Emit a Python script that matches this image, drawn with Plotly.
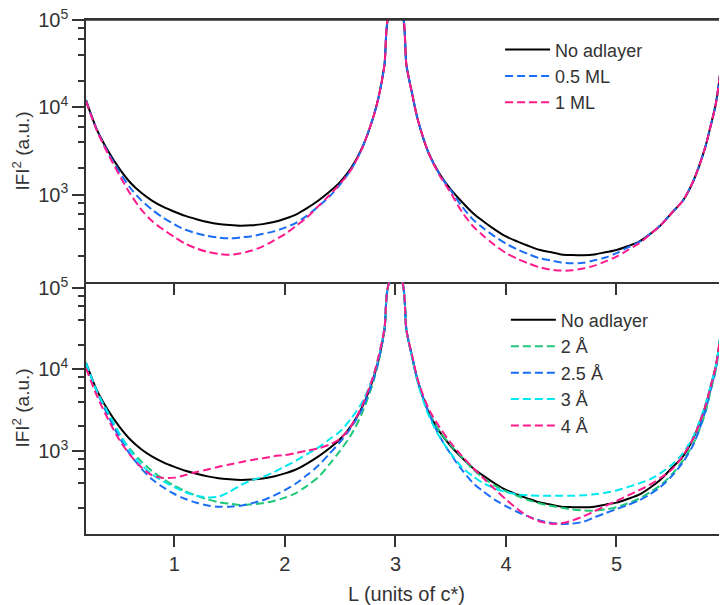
import plotly.graph_objects as go

# ---------------- data ----------------
L = [0.2, 0.3, 0.4, 0.5, 0.6, 0.7, 0.8, 0.9, 1.0, 1.1, 1.2, 1.3, 1.4, 1.5, 1.6, 1.7,
     1.8, 1.9, 2.0, 2.1, 2.2, 2.3, 2.4, 2.5, 2.6, 2.7, 2.8, 2.85, 2.9, 2.95,
     3.05, 3.1, 3.15, 3.2, 3.3, 3.4, 3.5, 3.6, 3.7, 3.8, 3.9, 4.0, 4.1, 4.2, 4.3,
     4.4, 4.5, 4.6, 4.7, 4.8, 4.9, 5.0, 5.1, 5.2, 5.3, 5.4, 5.5, 5.6, 5.7, 5.8,
     5.85, 5.9, 5.95, 6.0]

no_adlayer = [12100, 5500, 3160, 2000, 1380, 1050, 851, 724, 638, 571, 524, 487, 462, 449, 441, 446,
              460, 486, 530, 591, 700, 851, 1070, 1400, 2030, 3470, 7760, 13500, 30200, 120000,
              126000, 30000, 14500, 7400, 3000, 1720, 1150, 830, 617, 490, 398, 332, 292, 260, 234,
              220, 207, 204, 203, 207, 219, 232, 257, 288, 351, 447, 617, 851, 1480, 3390,
              6000, 11200, 35500, 1000000]

ml_05 = [12000, 5430, 3020, 1845, 1200, 861, 671, 543, 457, 396, 361, 337, 322, 316, 324, 335,
         356, 380, 419, 475, 575, 728, 944, 1310, 1950, 3430, 7760, 13500, 30200, 120000,
         126000, 30000, 14500, 7400, 3000, 1700, 1120, 740, 521, 410, 331, 275, 237, 209, 188,
         177, 167, 164, 166, 177, 191, 214, 248, 285, 351, 447, 617, 851, 1480, 3390,
         6000, 11200, 35500, 1000000]

ml_1 = [11750, 5370, 2920, 1690, 1023, 676, 495, 398, 327, 274, 242, 221, 210, 205, 213, 229,
        256, 299, 354, 439, 550, 735, 977, 1340, 1950, 3430, 7760, 13500, 30200, 120000,
        126000, 30000, 14500, 7400, 3000, 1660, 1050, 641, 438, 334, 264, 215, 185, 164, 148,
        139, 135, 136, 143, 154, 172, 195, 231, 275, 347, 447, 617, 851, 1480, 3390,
        6000, 11200, 35500, 1000000]

d_2A = [12000, 5370, 2820, 1600, 1050, 745, 562, 451, 373, 319, 282, 254, 235, 225, 217, 221,
        228, 243, 267, 304, 373, 473, 679, 1007, 1585, 2950, 7080, 13000, 30200, 120000,
        126000, 30000, 14500, 7400, 3000, 1740, 1175, 841, 596, 462, 376, 320, 282, 250, 228,
        212, 200, 191, 186, 185, 191, 204, 226, 257, 309, 380, 513, 759, 1260, 2820,
        5300, 10000, 35500, 1000000]

d_25A = [11900, 5300, 2690, 1480, 904, 610, 445, 356, 296, 257, 231, 214, 206, 207, 212, 228,
         248, 283, 331, 398, 505, 656, 914, 1290, 1950, 3310, 7500, 13500, 30200, 120000,
         126000, 30000, 14500, 7400, 2950, 1510, 912, 589, 407, 314, 251, 210, 179, 157, 141,
         131, 127, 128, 135, 153, 172, 193, 216, 245, 292, 363, 490, 724, 1230, 2950,
         5500, 10500, 35500, 1000000]

d_3A = [12000, 5300, 2950, 1660, 1007, 679, 513, 424, 359, 311, 282, 269, 275, 316, 380, 437,
        479, 550, 646, 759, 912, 1096, 1380, 1740, 2510, 3980, 8320, 15000, 31600, 120000,
        126000, 30000, 14000, 7000, 2750, 1480, 933, 631, 490, 398, 347, 313, 294, 285, 282,
        281, 281, 282, 285, 294, 307, 327, 359, 398, 447, 537, 676, 933, 1550, 3550,
        6200, 11200, 35500, 1000000]

d_4A = [10350, 4700, 2450, 1380, 889, 631, 501, 466, 470, 506, 550, 592, 638, 682, 728, 773,
        813, 861, 891, 944, 1007, 1072, 1190, 1410, 2040, 3630, 8320, 15000, 31600, 120000,
        126000, 30000, 15000, 7600, 3300, 1950, 1260, 871, 624, 457, 339, 254, 195, 158, 137,
        128, 129, 140, 157, 182, 211, 243, 282, 327, 383, 468, 589, 871, 1480, 3390,
        6000, 11200, 35500, 1000000]

x_ticks = [1, 2, 3, 4, 5, 6]
y_major = [1e3, 1e4, 1e5]
y_major_text = ["10<sup>3</sup>", "10<sup>4</sup>", "10<sup>5</sup>"]
y_minor = [200, 400, 600, 800, 2000, 4000, 6000, 8000, 20000, 40000, 60000, 80000]

# ---------------- style ----------------
FONT = "Liberation Sans, Arial, sans-serif"
TXT = "#333333"
AX = "#333333"
BLACK = "#000000"
BLUE = "#1a6ef5"
PINK = "#ff1a8c"
GREEN = "#1ec878"
CYAN = "#00e8f0"
DASH = "8px,4px"

fig = go.Figure()


def add(y, name, color, dash, xa, ya, legend):
    fig.add_trace(go.Scatter(
        x=L, y=y, name=name, mode="lines",
        line=dict(color=color, width=2, dash=dash, shape="spline", smoothing=0.8),
        xaxis=xa, yaxis=ya, legend=legend, hoverinfo="skip", cliponaxis=True))


add(no_adlayer, "No adlayer", BLACK, "solid", "x", "y", "legend")
add(ml_05, "0.5 ML", BLUE, DASH, "x", "y", "legend")
add(ml_1, "1 ML", PINK, DASH, "x", "y", "legend")

add(no_adlayer, "No adlayer", BLACK, "solid", "x2", "y2", "legend2")
add(d_2A, "2 Å", GREEN, DASH, "x2", "y2", "legend2")
add(d_25A, "2.5 Å", BLUE, DASH, "x2", "y2", "legend2")
add(d_3A, "3 Å", CYAN, DASH, "x2", "y2", "legend2")
add(d_4A, "4 Å", PINK, DASH, "x2", "y2", "legend2")

# page body has an 8px margin: figure is placed at (8, 8) in the window
split = (534 - 282) / 514.0

common_x = dict(range=[0.2, 6.0], showgrid=False, zeroline=False, showline=True,
                linecolor=AX, linewidth=1.5, ticks="outside", ticklen=11, tickwidth=1.5,
                tickcolor=AX, tickvals=x_ticks, automargin=False,
                tickfont=dict(family=FONT, size=20, color=TXT))
common_y = dict(type="log", showgrid=False, zeroline=False, showline=True,
                linecolor=AX, linewidth=1.5, ticks="outside", ticklen=12, tickwidth=1.5,
                tickcolor=AX, tickvals=y_major, ticktext=y_major_text, automargin=False,
                ticklabeloverflow="allow",
                tickfont=dict(family=FONT, size=20, color=TXT),
                minor=dict(tickvals=y_minor, ticks="outside", ticklen=6, tickwidth=1.5,
                           tickcolor=AX, showgrid=False),
                title=dict(text="IFI<sup>2</sup> (a.u.)", font=dict(family=FONT, size=19, color=TXT),
                           standoff=4))

fig.update_layout(
    width=719, height=597,
    margin=dict(l=78, r=0, t=12, b=71),
    paper_bgcolor="white", plot_bgcolor="white",
    font=dict(family=FONT, size=18, color=TXT),
    xaxis=dict(common_x, anchor="y", domain=[0, 1], showticklabels=False, mirror=True),
    xaxis2=dict(common_x, anchor="y2", domain=[0, 1], ticklabeloverflow="allow",
                title=dict(text="L (units of c*)", font=dict(family=FONT, size=20, color=TXT),
                           standoff=13)),
    yaxis=dict(common_y, anchor="x", domain=[split, 1], range=[2.0, 5.0]),
    yaxis2=dict(common_y, anchor="x2", domain=[0, split], range=[1.98, 5.074]),
    legend=dict(x=0.646, y=0.978, xanchor="left", yanchor="top", bgcolor="rgba(0,0,0,0)",
                font=dict(family=FONT, size=18, color=TXT), itemwidth=45,
                tracegroupgap=0),
    legend2=dict(x=0.655, y=0.452, xanchor="left", yanchor="top", bgcolor="rgba(0,0,0,0)",
                 font=dict(family=FONT, size=18, color=TXT), itemwidth=45,
                 tracegroupgap=0),
    shapes=[dict(type="line", xref="paper", yref="paper", x0=0, x1=1, y0=1, y1=1,
                 line=dict(color=AX, width=1.5), layer="above")],
    showlegend=True,
)

fig.write_html("out.html")
